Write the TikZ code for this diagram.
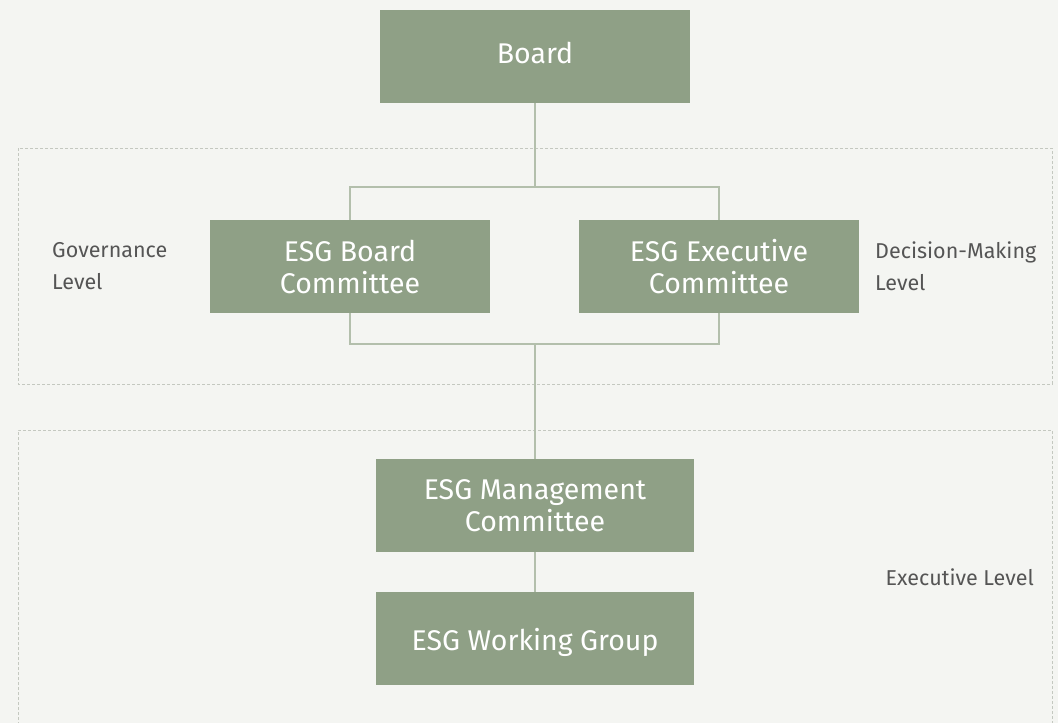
\documentclass[tikz,border=0pt]{standalone}
\usepackage{fontspec}
\setmainfont{Fira Sans}
\begin{document}
\definecolor{bgcol}{HTML}{F4F5F2}
\definecolor{sage}{HTML}{8FA086}
\definecolor{linkcol}{HTML}{B3BFAC}
\definecolor{framecol}{HTML}{C4C8C0}
\definecolor{labelcol}{HTML}{555555}
% single-line box text with its baseline placed relative to the box centre
\newcommand{\baseshift}[2]{\raisebox{#1}[0pt][0pt]{#2}}
\begin{tikzpicture}[x=1pt,y=-1pt,
  unit/.style={fill=sage, draw=none, text=white, minimum height=93pt,
    align=center, inner sep=0pt, font=\fontsize{28.5}{32}\selectfont},
  link/.style={draw=linkcol, line width=1.2pt},
  levelframe/.style={draw=framecol, line width=1pt, dash pattern=on 3pt off 2pt},
  levellabel/.style={text=labelcol, align=left, inner sep=0pt,
    font=\fontsize{21.5}{32}\selectfont}]
  % canvas
  \fill[bgcol] (0,0) rectangle (1058,723);
  \useasboundingbox (0,0) rectangle (1058,723);
  % level frames
  \draw[levelframe] (18,148) rectangle (1052,384);
  \draw[levelframe] (18,740) -- (18,430) -- (1052,430) -- (1052,740);
  % units
  \node[unit, minimum width=310pt] (board) at (535,56.5) {\baseshift{-6.5pt}{Board}};
  \node[unit, minimum width=280pt] (bc) at (350,266.5) {ESG Board\\Committee};
  \node[unit, minimum width=280pt] (ec) at (719,266.5) {ESG Executive\\Committee};
  \node[unit, minimum width=318pt] (mc) at (535,505.5) {ESG Management\\Committee};
  \node[unit, minimum width=318pt] (wg) at (535,638.5) {\baseshift{-11.5pt}{ESG Working Group}};
  % junction points
  \coordinate (top) at (535,187);
  \coordinate (bot) at (535,344);
  % connectors
  \draw[link] (board.south) -- (top);
  \draw[link] (bc.north) |- (top) -| (ec.north);
  \draw[link] (bc.south) |- (bot) -| (ec.south);
  \draw[link] (bot) -- (mc.north);
  \draw[link] (mc.south) -- (wg.north);
  % level labels
  \node[levellabel, anchor=west] (gov) at (52,266) {Governance\\Level};
  \node[levellabel, anchor=west] (dec) at (875,266) {Decision-Making\\Level};
  \node[levellabel, anchor=east] (exe) at (1034,577) {Executive Level};
\end{tikzpicture}
\end{document}
